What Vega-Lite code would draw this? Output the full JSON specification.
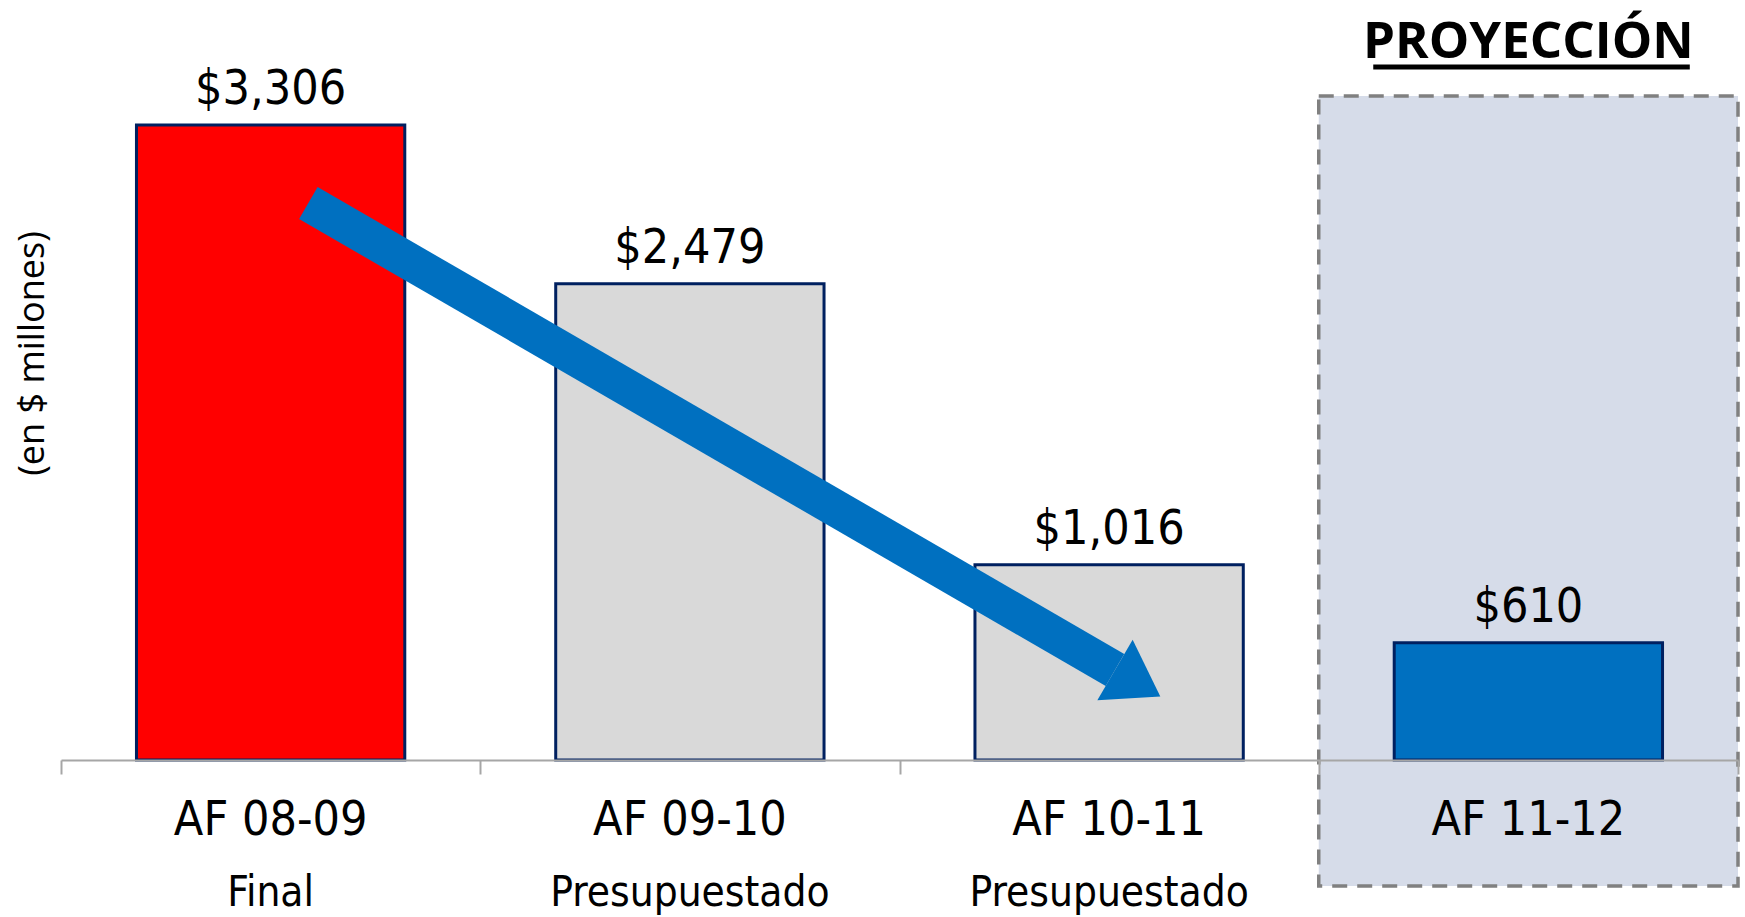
{
  "$schema": "https://vega.github.io/schema/vega-lite/v6.json",
  "autosize": {"type": "none"},
  "width": 1677,
  "height": 760,
  "padding": {"left": 61, "top": 0, "right": 7, "bottom": 157},
  "background": "white",
  "config": {"view": {"stroke": null}},
  "resolve": {"scale": {"x": "independent"}, "axis": {"x": "independent"}},
  "layer": [
    {
      "layer": [
        {
          "data": {"values": [{"year": "AF 11-12", "top": 3457, "bottom": -656}]},
          "mark": {"type": "rect", "fill": "#D6DCE9", "stroke": "#808080", "strokeWidth": 3.5, "strokeDash": [15, 10], "clip": false},
          "encoding": {
            "x": {"field": "year", "type": "nominal", "sort": null,
                  "scale": {"domain": ["AF 08-09|Final", "AF 09-10|Presupuestado", "AF 10-11|Presupuestado", "AF 11-12"], "paddingInner": 0, "paddingOuter": 0}},
            "y": {"field": "top", "type": "quantitative", "scale": {"domain": [0, 3957], "nice": false, "zero": false}},
            "y2": {"field": "bottom"}
          }
        },
        {
          "data": {"name": "bars", "values": [
            {"year": "AF 08-09|Final", "value": 3306, "kind": "final", "status": "Final"},
            {"year": "AF 09-10|Presupuestado", "value": 2479, "kind": "presupuestado", "status": "Presupuestado"},
            {"year": "AF 10-11|Presupuestado", "value": 1016, "kind": "presupuestado", "status": "Presupuestado"},
            {"year": "AF 11-12", "value": 610, "kind": "proyeccion", "status": ""}
          ]},
          "layer": [
            {
              "mark": {"type": "bar", "width": {"band": 0.64}, "stroke": "#002060", "strokeWidth": 3},
              "encoding": {
                "x": {"field": "year", "type": "nominal", "sort": null,
                      "scale": {"domain": ["AF 08-09|Final", "AF 09-10|Presupuestado", "AF 10-11|Presupuestado", "AF 11-12"], "paddingInner": 0, "paddingOuter": 0},
                      "axis": {
                        "orient": "bottom", "offset": 0,
                        "title": null, "labelExpr": "split(datum.value, '|')[0]", "labelAngle": 0,
                        "ticks": false, "domain": false, "labelLimit": 0, "labelAlign": "center",
                        "labelFont": "Liberation Sans Narrow, DejaVu Sans Condensed, sans-serif", "labelFontSize": 48,
                        "labelColor": "#000000", "labelPadding": 36, "labelBaseline": "top", "zindex": 1
                      }},
                "y": {"field": "value", "type": "quantitative", "scale": {"domain": [0, 3957], "nice": false, "zero": false},
                      "axis": {"title": "(en $ millones)", "labels": false, "ticks": false, "domain": false, "grid": false,
                               "titleFont": "Open Sans", "titleFontSize": 36, "titleFontWeight": "normal", "titleColor": "#000000",
                               "titleX": -29, "titleY": 353, "titleAngle": -90, "titleAlign": "center", "titleBaseline": "middle"}},
                "fill": {"field": "kind", "type": "nominal",
                         "scale": {"domain": ["final", "presupuestado", "proyeccion"], "range": ["#FF0000", "#D9D9D9", "#0070C0"]},
                         "legend": null}
              }
            },
            {
              "mark": {"type": "text", "baseline": "alphabetic", "dy": -21, "fontSize": 48, "font": "Liberation Sans Narrow, DejaVu Sans Condensed, sans-serif", "color": "#000000"},
              "encoding": {
                "x": {"field": "year", "type": "nominal", "sort": null},
                "y": {"field": "value", "type": "quantitative", "scale": {"domain": [0, 3957], "nice": false, "zero": false}},
                "text": {"field": "value", "type": "quantitative", "format": "$,.0f"}
              }
            },
            {
              "mark": {"type": "text", "baseline": "middle", "fontSize": 42, "font": "Liberation Sans Narrow, DejaVu Sans Condensed, sans-serif", "color": "#000000", "clip": false},
              "encoding": {
                "x": {"field": "year", "type": "nominal", "sort": null},
                "y": {"datum": -692, "type": "quantitative", "scale": {"domain": [0, 3957], "nice": false, "zero": false}},
                "text": {"field": "status", "type": "nominal"}
              }
            }
          ]
        }
      ]
    },
    {
      "layer": [
        {
          "data": {"values": [{"x": 0.59, "y": 2900, "x2": 2.514, "y2": 469}]},
          "mark": {"type": "rule", "color": "#0070C0", "strokeWidth": 37, "strokeCap": "butt"},
          "encoding": {
            "x": {"field": "x", "type": "quantitative", "scale": {"domain": [0, 4], "nice": false, "zero": false},
                  "axis": {"orient": "bottom", "offset": 0, "title": null, "labels": false, "grid": false,
                           "values": [0, 1, 2, 3, 4], "tickSize": 14, "tickWidth": 2, "tickColor": "#A6A6A6",
                           "domainColor": "#A6A6A6", "domainWidth": 2, "zindex": 2}},
            "x2": {"field": "x2"},
            "y": {"field": "y", "type": "quantitative", "scale": {"domain": [0, 3957], "nice": false, "zero": false}},
            "y2": {"field": "y2"}
          }
        },
        {
          "data": {"values": [{"x": 2.514, "y": 469}]},
          "mark": {"type": "point", "shape": "M0,-1L1.5,0L0,1Z", "size": 4900, "angle": 30.3, "filled": true, "color": "#0070C0", "opacity": 1},
          "encoding": {
            "x": {"field": "x", "type": "quantitative", "scale": {"domain": [0, 4], "nice": false, "zero": false}},
            "y": {"field": "y", "type": "quantitative", "scale": {"domain": [0, 3957], "nice": false, "zero": false}}
          }
        },
        {
          "data": {"values": [{"x": 3.5, "y": 3655, "label": "PROYECCIÓN"}]},
          "mark": {"type": "text", "baseline": "alphabetic", "align": "center", "font": "Open Sans", "fontWeight": "bold", "fontSize": 51, "color": "#000000", "clip": false},
          "encoding": {
            "x": {"field": "x", "type": "quantitative", "scale": {"domain": [0, 4], "nice": false, "zero": false}},
            "y": {"field": "y", "type": "quantitative", "scale": {"domain": [0, 3957], "nice": false, "zero": false}},
            "text": {"field": "label"}
          }
        },
        {
          "data": {"values": [{"x": 3.13, "x2": 3.885, "y": 3608}]},
          "mark": {"type": "rule", "color": "#000000", "strokeWidth": 5, "clip": false},
          "encoding": {
            "x": {"field": "x", "type": "quantitative", "scale": {"domain": [0, 4], "nice": false, "zero": false}},
            "x2": {"field": "x2"},
            "y": {"field": "y", "type": "quantitative", "scale": {"domain": [0, 3957], "nice": false, "zero": false}}
          }
        }
      ]
    }
  ]
}
